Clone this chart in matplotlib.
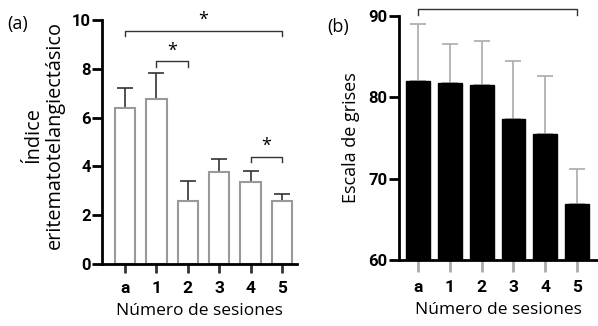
import matplotlib.pyplot as plt

sesiones = ['a', '1', '2', '3', '4', '5']

indice_media = [6.38, 6.78, 2.57, 3.77, 3.37, 2.57]
indice_error = [0.82, 1.04, 0.83, 0.52, 0.43, 0.29]

grises_media = [82.05, 81.8, 81.5, 77.3, 75.5, 66.85]
grises_error = [7.0, 4.8, 5.4, 7.2, 7.1, 4.4]

# comparaciones significativas: (desde, hasta, altura)
comp_a = [(0, 5, 9.56), (1, 2, 8.3), (4, 5, 4.38)]
comp_b = [(0, 5, 90.86)]

fuente_num = ['Roboto', 'DejaVu Sans']
fuente_txt = ['Open Sans', 'DejaVu Sans']


def estilo_ejes(ax, largo_x):
    ax.spines['top'].set_visible(False)
    ax.spines['right'].set_visible(False)
    ax.spines['left'].set_linewidth(2)
    ax.spines['bottom'].set_linewidth(2)
    ax.tick_params(axis='y', width=2, length=7, labelsize=12, pad=1)
    ax.tick_params(axis='x', width=2, length=largo_x, labelsize=12.5, pad=6,
                   color='#333333')
    for t in ax.get_xticklabels() + ax.get_yticklabels():
        t.set_fontfamily(fuente_num)
        t.set_fontweight('bold')


def corchete(ax, x1, x2, y, bajada, dy):
    ax.plot([x1, x1, x2, x2], [y - bajada, y, y, y - bajada],
            color='#333333', lw=1, clip_on=False)
    ax.text((x1 + x2) / 2, y + dy, '*', ha='center', va='center',
            fontsize=13, fontfamily=fuente_txt)


fig = plt.figure(figsize=(5.98, 3.26), dpi=100)

ax1 = fig.add_axes([102 / 598, 62 / 326, 195 / 598, 244 / 326])
x = range(len(sesiones))
ax1.bar(x, indice_media, width=0.65, color='white', edgecolor='#999999',
        linewidth=1.5, zorder=2)
ax1.errorbar(x, indice_media, yerr=[[0] * 6, indice_error], fmt='none',
             ecolor='#333333', elinewidth=1.2, capsize=6, capthick=1.2,
             zorder=1)
ax1.set_xlim(-0.73, 5.48)
ax1.set_ylim(0, 10)
ax1.set_yticks([0, 2, 4, 6, 8, 10])
ax1.set_xticks(list(x))
ax1.set_xticklabels(sesiones)
estilo_ejes(ax1, 6.5)
ax1.set_ylabel('Índice\neritematotelangiectásico', fontsize=14.3,
               fontfamily=fuente_txt, linespacing=1.15)
ax1.yaxis.set_label_coords(-0.19, 0.53)
ax1.set_xlabel('Número de sesiones', fontsize=12.5, fontfamily=fuente_txt,
               labelpad=5)
for x1, x2, y in comp_a:
    corchete(ax1, x1, x2, y, 0.22, 0.45)
fig.text(7 / 598, 1 - 24 / 326, '(a)', fontsize=13, fontfamily=fuente_txt,
         va='center')

ax2 = fig.add_axes([398.7 / 598, 66 / 326, 199 / 598, 244 / 326])
ax2.bar(x, grises_media, width=0.75, color='black', edgecolor='black',
        linewidth=1, zorder=2)
ax2.errorbar(x, grises_media, yerr=[[0] * 6, grises_error], fmt='none',
             ecolor='#aaaaaa', elinewidth=1.2, capsize=6, capthick=1.2,
             zorder=1)
ax2.set_xlim(-0.61, 5.65)
ax2.set_ylim(60, 90)
ax2.set_yticks([60, 70, 80, 90])
ax2.set_xticks(list(x))
ax2.set_xticklabels(sesiones)
estilo_ejes(ax2, 8.6)
ax2.tick_params(axis='x', color='#aaaaaa')
ax2.set_ylabel('Escala de grises', fontsize=13, fontfamily=fuente_txt)
ax2.yaxis.set_label_coords(-0.195, 0.5)
ax2.set_xlabel('Número de sesiones', fontsize=12.5, fontfamily=fuente_txt,
               labelpad=5)
for x1, x2, y in comp_b:
    corchete(ax2, x1, x2, y, 0.7, 1.1)
fig.text(327 / 598, 1 - 27 / 326, '(b)', fontsize=13, fontfamily=fuente_txt,
         va='center')

fig.savefig('out.png', dpi=100)
